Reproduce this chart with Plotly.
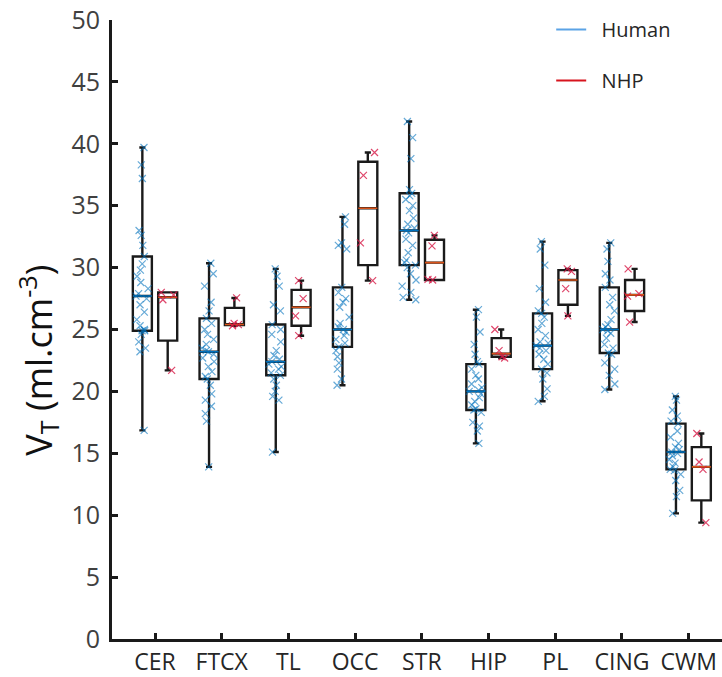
import plotly.graph_objects as go

# Brain regions
regions = ["CER", "FTCX", "TL", "OCC", "STR", "HIP", "PL", "CING", "CWM"]

# Human box statistics (ml.cm^-3)
human_min = [16.85, 13.9, 15.1, 20.5, 27.4, 15.8, 19.2, 20.15, 10.15]
human_q1 = [24.9, 21.0, 21.3, 23.6, 30.2, 18.5, 21.8, 23.1, 13.7]
human_med = [27.7, 23.2, 22.4, 25.0, 33.0, 20.0, 23.7, 25.0, 15.1]
human_q3 = [30.9, 25.9, 25.4, 28.4, 36.0, 22.2, 26.3, 28.4, 17.4]
human_max = [39.7, 30.35, 29.9, 34.1, 41.8, 26.6, 32.1, 32.0, 19.6]

# NHP box statistics (ml.cm^-3)
nhp_min = [21.7, 25.3, 24.5, 28.95, 29.0, 22.7, 26.1, 25.6, 9.4]
nhp_q1 = [24.1, 25.35, 25.3, 30.2, 29.0, 22.8, 27.0, 26.5, 11.2]
nhp_med = [27.6, 25.4, 26.8, 34.8, 30.4, 23.05, 29.0, 27.8, 13.9]
nhp_q3 = [28.0, 26.75, 28.2, 38.55, 32.25, 24.3, 29.8, 29.0, 15.5]
nhp_max = [28.0, 27.55, 28.95, 39.3, 32.6, 25.0, 29.9, 29.9, 16.6]

# Individual human subjects per region
human_cer = [39.7, 38.3, 37.2, 33.0, 32.6, 31.8, 30.9, 30.3, 29.8, 29.3, 28.8, 28.3, 27.9,
             27.7, 27.5, 27.0, 26.4, 25.8, 25.3, 25.0, 24.9, 24.9, 24.6, 24.0, 23.5, 23.2, 16.85]
human_ftcx = [30.35, 29.5, 28.5, 27.2, 26.5, 25.9, 25.5, 25.0, 24.6, 24.2, 23.8, 23.5, 23.3, 23.2,
              23.0, 22.7, 22.4, 22.0, 21.6, 21.2, 21.0, 20.5, 19.8, 19.3, 18.8, 18.2, 17.6, 13.9]
human_tl = [29.9, 29.3, 28.5, 27.0, 26.5, 25.4, 25.0, 24.6, 24.0, 23.3, 22.9, 22.6, 22.4, 22.2,
            22.0, 21.8, 21.5, 21.3, 21.0, 20.5, 20.0, 19.6, 19.3, 15.1]
human_occ = [34.1, 33.5, 32.0, 31.8, 31.5, 28.4, 28.0, 27.5, 27.2, 26.8, 26.0, 25.5, 25.2, 25.0,
             24.8, 24.5, 24.2, 23.9, 23.6, 23.3, 22.8, 22.3, 21.8, 21.0, 20.5]
human_str = [41.8, 40.5, 38.8, 36.3, 36.0, 35.8, 35.5, 35.0, 34.6, 34.0, 33.5, 33.2, 33.0, 32.8,
             32.3, 31.8, 31.2, 30.6, 30.4, 30.2, 30.0, 29.5, 29.0, 28.5, 28.0, 27.6, 27.4]
human_hip = [26.6, 26.0, 24.8, 23.8, 23.0, 22.4, 22.2, 21.8, 21.3, 21.0, 20.6, 20.3, 20.1, 20.0,
             19.8, 19.5, 19.2, 18.9, 18.6, 18.5, 18.3, 17.5, 17.2, 16.8, 15.8]
human_pl = [32.1, 31.5, 30.2, 28.3, 27.2, 26.5, 26.3, 26.0, 25.5, 25.0, 24.5, 24.0, 23.9, 23.7,
            23.5, 23.3, 23.0, 22.6, 22.2, 21.8, 21.5, 21.0, 20.2, 19.6, 19.2]
human_cing = [32.0, 31.5, 30.5, 29.5, 29.0, 28.4, 27.6, 27.0, 26.5, 25.8, 25.4, 25.2, 25.0, 24.9,
              24.7, 24.3, 23.8, 23.5, 23.1, 23.0, 22.3, 21.8, 21.3, 20.6, 20.15]
human_cwm = [19.6, 19.3, 18.5, 18.0, 17.6, 17.4, 16.8, 16.3, 15.8, 15.5, 15.3, 15.1, 15.0, 14.8,
             14.5, 14.2, 13.9, 13.7, 13.6, 13.3, 12.8, 12.0, 11.5, 10.15]

# Individual NHP scans per region
nhp_cer = [28.0, 27.8, 27.4, 21.7]
nhp_ftcx = [27.55, 25.5, 25.4, 25.3]
nhp_tl = [28.95, 27.5, 26.1, 24.5]
nhp_occ = [39.3, 37.45, 32.0, 28.95]
nhp_str = [32.6, 31.76, 29.05, 29.0]
nhp_hip = [25.0, 23.3, 22.8, 22.7]
nhp_pl = [29.9, 29.7, 28.3, 26.1]
nhp_cing = [29.9, 27.9, 27.7, 25.6]
nhp_cwm = [16.6, 14.3, 13.7, 9.4]

human_points = [human_cer, human_ftcx, human_tl, human_occ, human_str,
                human_hip, human_pl, human_cing, human_cwm]
nhp_points = [nhp_cer, nhp_ftcx, nhp_tl, nhp_occ, nhp_str,
              nhp_hip, nhp_pl, nhp_cing, nhp_cwm]

BOX_LINE = "#1a1a1a"
HUMAN_MED = "#0072BD"
NHP_MED = "#D95319"
HUMAN_PT = "rgba(0,114,189,0.6)"
NHP_PT = "rgba(215,25,70,0.8)"
CLEAR = "rgba(0,0,0,0)"
NBSP = "\u00a0"

fig = go.Figure()


def add_group(group, mins, q1s, meds, q3s, maxs, pts, med_color, pt_color):
    # box + whiskers
    fig.add_trace(go.Box(
        x=regions, q1=q1s, median=meds, q3=q3s, lowerfence=mins, upperfence=maxs,
        offsetgroup=group, line=dict(color=BOX_LINE, width=2.4), fillcolor=CLEAR,
        whiskerwidth=0.32, boxpoints=False, showlegend=False, hoverinfo="skip"))
    # coloured median line
    fig.add_trace(go.Box(
        x=regions, q1=meds, median=meds, q3=meds, lowerfence=meds, upperfence=meds,
        offsetgroup=group, line=dict(color=med_color, width=1.6), fillcolor=CLEAR,
        whiskerwidth=0, boxpoints=False, showlegend=False, hoverinfo="skip"))
    # individual scans, jittered around the box centre
    xs, ys = [], []
    for reg, vals in zip(regions, pts):
        xs += [reg] * len(vals)
        ys += vals
    fig.add_trace(go.Box(
        x=xs, y=ys, offsetgroup=group, boxpoints="all", jitter=0.8, pointpos=0,
        line=dict(color=CLEAR, width=0), fillcolor=CLEAR,
        marker=dict(symbol="x-thin", size=7, color=pt_color,
                    line=dict(color=pt_color, width=1.2)),
        showlegend=False, hoverinfo="y"))


add_group("h", human_min, human_q1, human_med, human_q3, human_max,
          human_points, HUMAN_MED, HUMAN_PT)
add_group("n", nhp_min, nhp_q1, nhp_med, nhp_q3, nhp_max,
          nhp_points, NHP_MED, NHP_PT)

# legend entries
fig.add_trace(go.Scatter(x=[None], y=[None], mode="lines", name=NBSP * 2 + "Human",
                         legendgroup="a", line=dict(color="#5BA3E6", width=2)))
fig.add_trace(go.Scatter(x=[None], y=[None], mode="lines", name=NBSP * 2 + "NHP",
                         legendgroup="b", line=dict(color="#D7141E", width=2)))

fig.update_layout(
    width=722, height=677,
    margin=dict(l=112, r=0, t=20, b=36),
    paper_bgcolor="white", plot_bgcolor="white",
    boxmode="group", boxgap=0.24, boxgroupgap=0.25,
    font=dict(family="Open Sans, sans-serif", color="#262626"),
    legend=dict(x=0.72, y=1.016, xanchor="left", yanchor="top",
                bgcolor=CLEAR, font=dict(size=20, color="#262626"),
                tracegroupgap=22, traceorder="grouped"),
    showlegend=True,
    annotations=[dict(
        text="V<sub>T</sub> (ml.cm<sup>-3</sup>)", textangle=-90,
        xref="paper", yref="paper", x=-0.121, y=0.45,
        xanchor="center", yanchor="middle", showarrow=False,
        font=dict(size=36, color="#111111"))],
)
fig.update_xaxes(
    type="category", categoryorder="array", categoryarray=regions,
    range=[-0.645, 8.5], showline=True, linecolor=BOX_LINE, linewidth=3,
    ticks="inside", ticklen=6, tickwidth=3, tickcolor=BOX_LINE,
    tickfont=dict(size=23, color="#262626"), showgrid=False, zeroline=False)
fig.update_yaxes(
    range=[0, 50], dtick=5, showline=True, linecolor=BOX_LINE, linewidth=3,
    ticks="inside", ticklen=6, tickwidth=3, tickcolor=BOX_LINE,
    tickfont=dict(size=25, color="#404040"), ticklabelstandoff=4,
    showgrid=False, zeroline=False)

fig.write_html("out.html")
